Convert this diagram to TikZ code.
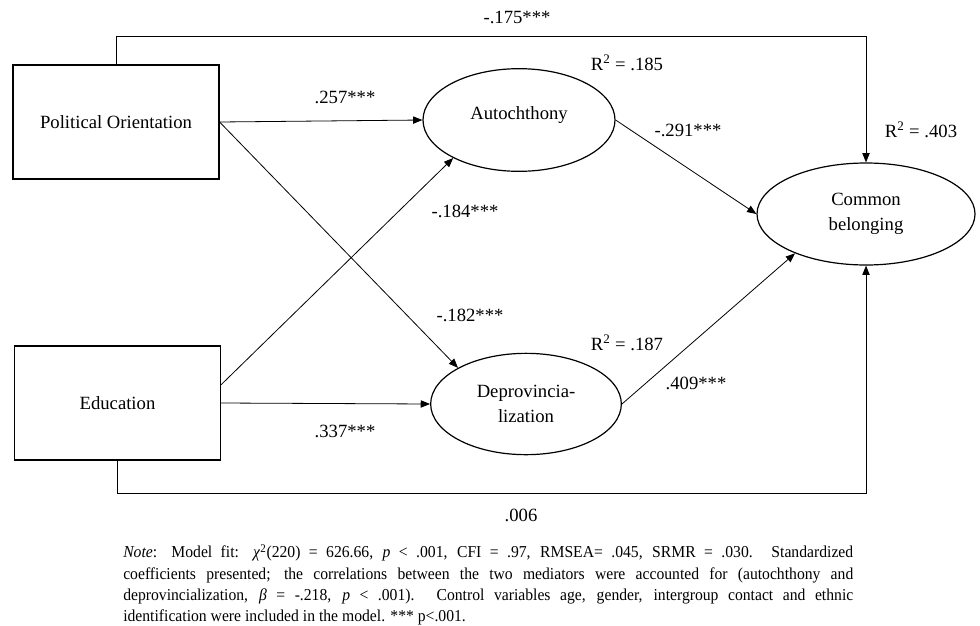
\documentclass[tikz,border=0pt]{standalone}
\usepackage{fontspec}
\setmainfont{Liberation Serif}
\newfontfamily\notefont[FakeStretch=0.94]{Liberation Serif}
\usetikzlibrary{shapes.geometric, arrows.meta, positioning}

\begin{document}
\begin{tikzpicture}[x=0.75pt, y=-0.75pt,
      box/.style={rectangle, draw=black, line width=0.9pt,
                  minimum width=154.5pt, minimum height=85.5pt,
                  inner sep=0pt, font=\fontsize{14}{16}\selectfont},
      latent/.style={ellipse, draw=black, line width=0.9pt, inner sep=0pt,
                  align=center, font=\fontsize{14}{18.5}\selectfont},
      coef/.style={inner sep=0pt, font=\fontsize{14}{16}\selectfont},
      note/.style={inner sep=0pt, text width=547.5pt, align=justify,
                  font=\notefont\fontsize{12.5}{16}\selectfont},
      arr/.style={-{Triangle[length=7pt, width=5.5pt]}, line width=0.6pt, draw=black}
    ]
    \useasboundingbox (0,0) rectangle (980,625);
    % observed predictors
    \node[box] (po)  at (116,122)   {Political Orientation};
    \node[box] (edu) at (117.5,403) {Education};
    % mediators and outcome
    \node[latent, minimum width=144pt, minimum height=77pt] (auto)   at (519,120) {Autochthony\\[-8pt]};
    \node[latent, minimum width=143pt, minimum height=76pt] (deprov) at (526,404) {Deprovincia-\\lization};
    \node[latent, minimum width=163.5pt, minimum height=76.5pt] (common) at (866,214) {Common\\belonging};
    % paths
    \draw[arr] (po.east) -- (auto.west);
    \draw[arr] (po.east) -- (deprov.152);
    \draw[arr] (edu.10) -- (auto.210);
    \draw[arr] (edu.east) -- (deprov.west);
    \draw[arr] (auto.east) -- (common.west);
    \draw[arr] (deprov.east) -- (common.209);
    \draw[arr] (po.north) -- ++(0,-28) -| (common.north);
    \draw[arr] (edu.south) -- ++(0,33) -| (common.south);
    % coefficients
    \node[coef] (c1)  at (517,17)  {-.175***};
    \node[coef] (c2)  at (345,97)  {.257***};
    \node[coef] (r1)  at (627,63)  {R\textsuperscript{2} = .185};
    \node[coef] (c3)  at (688,130) {-.291***};
    \node[coef] (r3)  at (921,130) {R\textsuperscript{2} = .403};
    \node[coef] (c4)  at (465,211) {-.184***};
    \node[coef] (c5)  at (470,315) {-.182***};
    \node[coef] (r2)  at (627,343) {R\textsuperscript{2} = .187};
    \node[coef] (c6)  at (696,383) {.409***};
    \node[coef] (c7)  at (345,431) {.337***};
    \node[coef] (c8)  at (521,515) {.006};
    % note
    \node[note, anchor=north west] (fit) at (123,544) {\textit{Note}: Model fit: \textit{χ}\textsuperscript{2}(220) = 626.66, \textit{p} < .001, CFI = .97, RMSEA= .045, SRMR = .030. Standardized\linebreak coefficients presented; the correlations between the two mediators were accounted for (autochthony and\linebreak deprovincialization, \textit{β} = -.218, \textit{p} < .001). Control variables age, gender, intergroup contact and ethnic\linebreak identification were included in the model. *** p<.001.};
  \end{tikzpicture}
\end{document}
